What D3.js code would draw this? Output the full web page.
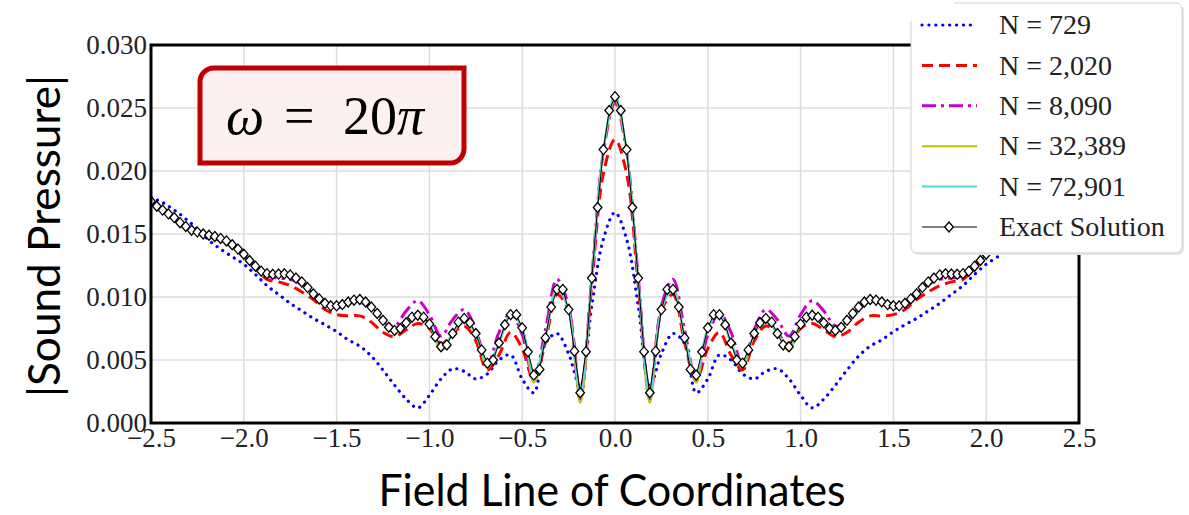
<!DOCTYPE html>
<html>
<head>
<meta charset="utf-8">
<script src="https://cdn.jsdelivr.net/npm/d3@7"></script>
<style>
  body { margin: 0; background: #fff; }
  svg { display: block; }
</style>
</head>
<body>
<div class="chart"></div>
<script>
// 축 눈금
const xTicks = [-2.5, -2.0, -1.5, -1.0, -0.5, 0.0, 0.5, 1.0, 1.5, 2.0, 2.5];
const yTicks = [0, 0.005, 0.010, 0.015, 0.020, 0.025, 0.030];

const legendNames = ['N = 729', 'N = 2,020', 'N = 8,090', 'N = 32,389', 'N = 72,901', 'Exact Solution'];

// 수치해 좌표 (간격 0.0625)
const fieldX = [-2.5,-2.4375,-2.375,-2.3125,-2.25,-2.1875,-2.125,-2.0625,-2,-1.9375,-1.875,-1.8125,-1.75,-1.6875,-1.625,-1.5625,-1.5,-1.4375,-1.375,-1.3125,-1.25,-1.1875,-1.125,-1.0625,-1,-0.9375,-0.875,-0.8125,-0.75,-0.6875,-0.625,-0.5625,-0.5,-0.4375,-0.375,-0.3125,-0.25,-0.1875,-0.125,-0.0625,0,
  0.0625,0.125,0.1875,0.25,0.3125,0.375,0.4375,0.5,0.5625,0.625,0.6875,0.75,0.8125,0.875,0.9375,1,1.0625,1.125,1.1875,1.25,1.3125,1.375,1.4375,1.5,1.5625,1.625,1.6875,1.75,1.8125,1.875,1.9375,2,2.0625,2.125,2.1875,2.25,2.3125,2.375,2.4375,2.5];

const n729 = [0.0179,0.0175,0.0169,0.0162,0.0154,0.0145,0.0138,0.0132,0.0126,0.0118,0.0109,0.0102,0.0095,0.0089,0.0083,0.0078,0.00725,0.0066,0.0061,0.0053,0.0042,0.0030,0.0019,0.0012,0.0022,0.0035,0.0043,0.0041,0.0035,0.0039,0.0050,0.0054,0.0035,0.0024,0.0063,0.0071,0.0055,0.0029,0.0093,0.0146,0.0167,
  0.0146,0.0093,0.0029,0.0055,0.0071,0.0063,0.0024,0.0035,0.0054,0.0050,0.0039,0.0035,0.0041,0.0043,0.0035,0.0022,0.0012,0.0019,0.0030,0.0042,0.0053,0.0061,0.0066,0.00725,0.0078,0.0083,0.0089,0.0095,0.0102,0.0109,0.0118,0.0126,0.0132,0.0138,0.0145,0.0154,0.0162,0.0169,0.0175,0.0179];

const n2020 = [0.0175,0.0168,0.0161,0.0155,0.0151,0.0148,0.0145,0.0140,0.0133,0.0123,0.0114,0.0112,0.0109,0.0104,0.0098,0.0090,0.0086,0.0085,0.0085,0.0080,0.0072,0.00685,0.0074,0.0079,0.0075,0.0063,0.0071,0.0077,0.0065,0.0042,0.0054,0.0072,0.0059,0.0034,0.0064,0.0102,0.0089,0.0022,0.0110,0.0198,0.0225,
  0.0198,0.0110,0.0022,0.0089,0.0102,0.0064,0.0034,0.0059,0.0072,0.0054,0.0042,0.0065,0.0077,0.0071,0.0063,0.0075,0.0079,0.0074,0.00685,0.0072,0.0080,0.0085,0.0085,0.0086,0.0090,0.0098,0.0104,0.0109,0.0112,0.0114,0.0123,0.0133,0.0140,0.0145,0.0148,0.0151,0.0155,0.0161,0.0168,0.0175];

const n8090 = [0.0175,0.0169,0.0162,0.0155,0.0151,0.01485,0.0146,0.0141,0.0134,0.0126,0.0117,0.0115,0.0114,0.0110,0.0103,0.0095,0.0091,0.0095,0.0096,0.0090,0.0080,0.0077,0.0089,0.0097,0.0086,0.0069,0.0082,0.0090,0.0074,0.0046,0.0072,0.0087,0.0070,0.0035,0.0074,0.0114,0.0093,0.0019,0.0116,0.0215,0.0254,
  0.0215,0.0116,0.0019,0.0093,0.0114,0.0074,0.0035,0.0070,0.0087,0.0072,0.0046,0.0074,0.0090,0.0082,0.0069,0.0086,0.0097,0.0089,0.0077,0.0080,0.0090,0.0096,0.0095,0.0091,0.0095,0.0103,0.0110,0.0114,0.0115,0.0117,0.0126,0.0134,0.0141,0.0146,0.01485,0.0151,0.0155,0.0162,0.0169,0.0175];

const n32389 = [0.0176,0.0169,0.0163,0.0156,0.01515,0.0149,0.01465,0.01415,0.0134,0.01245,0.0118,0.0117,0.0116,0.0111,0.0102,0.0095,0.0092,0.0096,0.0098,0.0092,0.0081,0.0072,0.0079,0.0085,0.0078,0.0057,0.0071,0.0082,0.0070,0.0044,0.0063,0.0086,0.0075,0.0032,0.0068,0.0107,0.0090,0.0016,0.0115,0.0216,0.0256,
  0.0216,0.0115,0.0016,0.0090,0.0107,0.0068,0.0032,0.0075,0.0086,0.0063,0.0044,0.0070,0.0082,0.0071,0.0057,0.0078,0.0085,0.0079,0.0072,0.0081,0.0092,0.0098,0.0096,0.0092,0.0095,0.0102,0.0111,0.0116,0.0117,0.0118,0.01245,0.0134,0.01415,0.01465,0.0149,0.01515,0.0156,0.0163,0.0169,0.0176];

const n72901 = [0.0176,0.0169,0.0163,0.0156,0.01515,0.0149,0.01465,0.01415,0.0134,0.01245,0.01185,0.01182,0.01175,0.0112,0.01025,0.0095,0.0093,0.0096,0.0098,0.0092,0.00815,0.00735,0.00795,0.00855,0.00785,0.00605,0.0071,0.0083,0.0071,0.00475,0.00635,0.0086,0.00755,0.0038,0.00675,0.0106,0.0090,0.0022,0.0115,0.0217,0.0260,
  0.0217,0.0115,0.0022,0.0090,0.0106,0.00675,0.0038,0.00755,0.0086,0.00635,0.00475,0.0071,0.0083,0.0071,0.00605,0.00785,0.00855,0.00795,0.00735,0.00815,0.0092,0.0098,0.0096,0.0093,0.0095,0.01025,0.0112,0.01175,0.01182,0.01185,0.01245,0.0134,0.01415,0.01465,0.0149,0.01515,0.0156,0.0163,0.0169,0.0176];

// 해석해 좌표 (간격 0.03125)
const exactX = [-2.5,-2.46875,-2.4375,-2.40625,-2.375,-2.34375,-2.3125,-2.28125,-2.25,-2.21875,-2.1875,-2.15625,-2.125,-2.09375,-2.0625,-2.03125,-2,-1.96875,-1.9375,-1.90625,-1.875,-1.84375,-1.8125,-1.78125,-1.75,-1.71875,-1.6875,-1.65625,-1.625,-1.59375,-1.5625,-1.53125,-1.5,-1.46875,-1.4375,-1.40625,-1.375,-1.34375,-1.3125,-1.28125,-1.25,-1.21875,-1.1875,-1.15625,-1.125,-1.09375,-1.0625,-1.03125,-1,-0.96875,-0.9375,-0.90625,-0.875,-0.84375,-0.8125,-0.78125,-0.75,-0.71875,-0.6875,-0.65625,-0.625,-0.59375,-0.5625,-0.53125,-0.5,-0.46875,-0.4375,-0.40625,-0.375,-0.34375,-0.3125,-0.28125,-0.25,-0.21875,-0.1875,-0.15625,-0.125,-0.09375,-0.0625,-0.03125,0,
  0.03125,0.0625,0.09375,0.125,0.15625,0.1875,0.21875,0.25,0.28125,0.3125,0.34375,0.375,0.40625,0.4375,0.46875,0.5,0.53125,0.5625,0.59375,0.625,0.65625,0.6875,0.71875,0.75,0.78125,0.8125,0.84375,0.875,0.90625,0.9375,0.96875,1,1.03125,1.0625,1.09375,1.125,1.15625,1.1875,1.21875,1.25,1.28125,1.3125,1.34375,1.375,1.40625,1.4375,1.46875,1.5,1.53125,1.5625,1.59375,1.625,1.65625,1.6875,1.71875,1.75,1.78125,1.8125,1.84375,1.875,1.90625,1.9375,1.96875,2,2.03125,2.0625,2.09375,2.125,2.15625,2.1875,2.21875,2.25,2.28125,2.3125,2.34375,2.375,2.40625,2.4375,2.46875,2.5];

const exactY = [0.0176,0.0172,0.0169,0.0166,0.0163,0.0159,0.0156,0.0153,0.01515,0.0150,
  0.0149,0.0148,0.01465,0.01445,0.01415,0.0138,0.0134,0.0129,0.01245,0.01205,
  0.01185,0.0118,0.01182,0.01184,0.01175,0.0115,0.0112,0.01075,0.01025,0.00985,
  0.0095,0.0093,0.0093,0.0094,0.0096,0.00975,0.0098,0.0096,0.0092,0.0087,
  0.00815,0.0076,0.00735,0.0075,0.00795,0.0084,0.00855,0.0084,0.00785,0.00685,
  0.00605,0.0062,0.0071,0.0080,0.0083,0.00795,0.0071,0.0058,0.00475,0.0050,
  0.00635,0.0078,0.0086,0.0086,0.00755,0.00565,0.0038,0.00425,0.00675,0.0092,
  0.0106,0.0106,0.0090,0.0057,0.0024,0.00566,0.0115,0.0171,0.0217,0.0248,
  0.0259,
  0.0248,0.0217,0.0171,0.0115,0.00566,0.0024,0.0057,0.0090,0.0106,0.0106,
  0.0092,0.00675,0.00425,0.0038,0.00565,0.00755,0.0086,0.0086,0.0078,0.00635,
  0.0050,0.00475,0.0058,0.0071,0.00795,0.0083,0.0080,0.0071,0.0062,0.00605,
  0.00685,0.00785,0.0084,0.00855,0.0084,0.00795,0.0075,0.00735,0.0076,0.00815,
  0.0087,0.0092,0.0096,0.0098,0.00975,0.0096,0.0094,0.0093,0.0093,0.0095,
  0.00985,0.01025,0.01075,0.0112,0.0115,0.01175,0.01184,0.01182,0.0118,0.01185,
  0.01205,0.01245,0.0129,0.0134,0.0138,0.01415,0.01445,0.01465,0.0148,0.0149,
  0.0150,0.01515,0.0153,0.0156,0.0159,0.0163,0.0166,0.0169,0.0172,0.0176];

/******************** 크기 ********************/
const W = 1189, H = 515;
const plot = {left: 151, right: 1079, top: 45, bottom: 423};
const serif = '"Liberation Serif", "Times New Roman", serif';
const sans = 'Lato, "Open Sans", sans-serif';

const x = d3.scaleLinear([-2.5, 2.5], [plot.left, plot.right]);
const y = d3.scaleLinear([0, 0.03], [plot.bottom, plot.top]);

// 선 스타일
const styles = [
  {color: '#0000ff', width: 3.2, dash: '0.1 6.8', cap: 'round'},
  {color: '#ff0000', width: 3, dash: '11 6', cap: 'butt'},
  {color: '#cc00cc', width: 3, dash: '14 5 3 5', cap: 'butt'},
  {color: '#bfbf00', width: 2, dash: null, cap: 'butt'},
  {color: '#55d6d6', width: 2, dash: null, cap: 'butt'}
];
const femSeries = [n729, n2020, n8090, n32389, n72901];

const svg = d3.select('.chart').append('svg')
  .attr('width', W)
  .attr('height', H);

svg.append('defs').append('clipPath').attr('id', 'plotClip')
  .append('rect')
    .attr('x', plot.left).attr('y', plot.top)
    .attr('width', plot.right - plot.left).attr('height', plot.bottom - plot.top);

/******************** 눈금선 ********************/
const grid = svg.append('g').attr('stroke', '#dcdcdc').attr('stroke-width', 1.5);
grid.selectAll('line.gx').data(xTicks).join('line')
  .attr('class', 'gx')
  .attr('x1', d => x(d)).attr('x2', d => x(d))
  .attr('y1', plot.top).attr('y2', plot.bottom);
grid.selectAll('line.gy').data(yTicks).join('line')
  .attr('class', 'gy')
  .attr('x1', plot.left).attr('x2', plot.right)
  .attr('y1', d => y(d)).attr('y2', d => y(d));

/******************** 축 레이블 ********************/
svg.append('g')
    .attr('transform', `translate(0, ${plot.bottom})`)
  .call(d3.axisBottom(x).tickValues(xTicks).tickFormat(d3.format('.1f')).tickSize(0).tickPadding(5))
  .call(g => g.select('.domain').remove())
  .selectAll('text')
    .attr('font-family', serif)
    .attr('font-size', 27)
    .attr('fill', '#222');

svg.append('g')
    .attr('transform', `translate(${plot.left}, 0)`)
  .call(d3.axisLeft(y).tickValues(yTicks).tickFormat(d3.format('.3f')).tickSize(0).tickPadding(4))
  .call(g => g.select('.domain').remove())
  .selectAll('text')
    .attr('font-family', serif)
    .attr('font-size', 27)
    .attr('fill', '#222');

/******************** 곡선 ********************/
const curves = svg.append('g').attr('clip-path', 'url(#plotClip)');
const smooth = d3.line()
  .x((d, i) => x(fieldX[i]))
  .y(d => y(d))
  .curve(d3.curveCatmullRom.alpha(0.5));

femSeries.forEach((values, k) => {
  const s = styles[k];
  curves.append('path')
    .attr('d', smooth(values))
    .attr('fill', 'none')
    .attr('stroke', s.color)
    .attr('stroke-width', s.width)
    .attr('stroke-dasharray', s.dash)
    .attr('stroke-linecap', s.cap);
});

const exactLine = d3.line()
  .x((d, i) => x(exactX[i]))
  .y(d => y(d));
curves.append('path')
  .attr('d', exactLine(exactY))
  .attr('fill', 'none')
  .attr('stroke', '#000')
  .attr('stroke-width', 1);

const diamond = 'M0,-5L4.3,0L0,5L-4.3,0Z';
curves.append('g')
  .selectAll('path')
  .data(exactY)
  .join('path')
    .attr('transform', (d, i) => `translate(${x(exactX[i])}, ${y(d)})`)
    .attr('d', diamond)
    .attr('fill', '#fff')
    .attr('stroke', '#000')
    .attr('stroke-width', 1.3);

/******************** 테두리 ********************/
svg.append('rect')
  .attr('x', plot.left).attr('y', plot.top)
  .attr('width', plot.right - plot.left).attr('height', plot.bottom - plot.top)
  .attr('fill', 'none')
  .attr('stroke', '#000')
  .attr('stroke-width', 3);

/******************** 축 제목 ********************/
svg.append('text')
  .attr('x', 612)
  .attr('y', 506)
  .attr('text-anchor', 'middle')
  .attr('font-family', sans)
  .attr('font-size', 44)
  .attr('textLength', 467)
  .attr('lengthAdjust', 'spacingAndGlyphs')
  .attr('fill', '#000')
  .text('Field Line of Coordinates');

svg.append('text')
  .attr('transform', 'translate(60, 236) rotate(-90)')
  .attr('text-anchor', 'middle')
  .attr('font-family', sans)
  .attr('font-size', 44)
  .attr('textLength', 322)
  .attr('lengthAdjust', 'spacingAndGlyphs')
  .attr('fill', '#000')
  .text('|Sound Pressure|');

/******************** ω 박스 ********************/
const bx = {x0: 200, x1: 464, y0: 68, y1: 163, r: 14};
svg.append('path')
  .attr('d', `M${bx.x0 + bx.r},${bx.y0} L${bx.x1},${bx.y0} L${bx.x1},${bx.y1 - bx.r} ` +
             `A${bx.r},${bx.r} 0 0 1 ${bx.x1 - bx.r},${bx.y1} L${bx.x0},${bx.y1} L${bx.x0},${bx.y0 + bx.r} ` +
             `A${bx.r},${bx.r} 0 0 1 ${bx.x0 + bx.r},${bx.y0} Z`)
  .attr('fill', '#fdf0f0')
  .attr('stroke', '#c00000')
  .attr('stroke-width', 5);

const omega = svg.append('text')
  .attr('y', 134)
  .attr('font-family', serif)
  .attr('font-size', 54)
  .attr('fill', '#000');
omega.append('tspan').attr('x', 226).attr('font-style', 'italic').text('ω');
omega.append('tspan').attr('x', 284).text('=');
omega.append('tspan').attr('x', 343).text('20');
omega.append('tspan').attr('font-style', 'italic').text('π');

/******************** 범례 ********************/
const lg = {x0: 911, x1: 1182, y0: 3, y1: 253, rowTop: 25, rowGap: 40.4};
const legend = svg.append('g');
legend.append('rect')
  .attr('x', lg.x0 + 2).attr('y', lg.y0 + 2)
  .attr('width', lg.x1 - lg.x0).attr('height', lg.y1 - lg.y0)
  .attr('rx', 6)
  .attr('fill', '#e6e6e6');
legend.append('rect')
  .attr('x', lg.x0).attr('y', lg.y0)
  .attr('width', lg.x1 - lg.x0).attr('height', lg.y1 - lg.y0)
  .attr('rx', 6)
  .attr('fill', '#fff')
  .attr('stroke', '#cfcfcf')
  .attr('stroke-width', 1);
// 잘린 왼쪽 위 모서리
legend.append('rect')
  .attr('x', 900).attr('y', 0)
  .attr('width', 54).attr('height', 21)
  .attr('fill', '#fff');

const rows = legend.selectAll('g.row')
  .data(legendNames)
  .join('g')
    .attr('class', 'row')
    .attr('transform', (d, i) => `translate(0, ${lg.rowTop + i * lg.rowGap})`);

rows.append('line')
  .attr('x1', 922).attr('x2', 977)
  .attr('y1', 0).attr('y2', 0)
  .attr('stroke', (d, i) => i < 5 ? styles[i].color : '#000')
  .attr('stroke-width', (d, i) => i < 5 ? styles[i].width : 1)
  .attr('stroke-dasharray', (d, i) => i < 5 ? styles[i].dash : null)
  .attr('stroke-linecap', (d, i) => i < 5 ? styles[i].cap : 'butt');

rows.filter((d, i) => i === 5)
  .append('path')
    .attr('transform', 'translate(949, 0)')
    .attr('d', diamond)
    .attr('fill', '#fff')
    .attr('stroke', '#000')
    .attr('stroke-width', 1.3);

rows.append('text')
  .attr('x', 999)
  .attr('y', 0)
  .attr('dy', '0.33em')
  .attr('font-family', serif)
  .attr('font-size', 28)
  .attr('fill', '#222')
  .text(d => d);
</script>
</body>
</html>
